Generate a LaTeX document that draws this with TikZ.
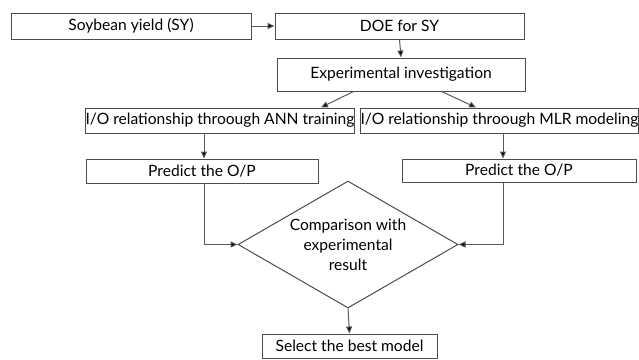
\documentclass[tikz,border=0pt]{standalone}
\usepackage{fontspec}
\setmainfont{Lato}
\usetikzlibrary{shapes.geometric,arrows.meta,calc}
\begin{document}
\begin{tikzpicture}[x=1pt,y=-1pt,
  box/.style={draw=black!70,line width=1pt,inner sep=0pt,minimum width=#1,font=\fontsize{15.6}{18}\selectfont},
  conn/.style={draw=black!65,line width=1pt,-{Triangle[length=7pt,width=6pt,fill=black]}}]
\useasboundingbox (0,0) rectangle (639,359);
\node[box=240pt,minimum height=26pt] (sy) at (131,26) {Soybean yield (SY)};
\node[box=249pt,minimum height=26pt] (doe) at (399.5,26) {DOE for SY};
\node[box=248pt,minimum height=33pt] (exp) at (401,74.5) {Experimental investigation};
\node[box=268pt,minimum height=25pt] (ann) at (220,120.5) {I/O relationship throough ANN training};
\node[box=273pt,minimum height=25pt] (mlr) at (499.5,120.5) {I/O relationship throough MLR modeling};
\node[box=232pt,minimum height=24pt] (pl) at (202,171) {Predict the O/P};
\node[box=234pt,minimum height=23pt] (pr) at (519,170.5) {Predict the O/P};
\node[draw=black!70,line width=1pt,diamond,aspect=1.73,inner sep=-4pt,minimum width=220pt,minimum height=127pt,
  align=center,font=\fontsize{15.6}{20}\selectfont] (cmp) at (348,244.5) {Comparison with\\experimental\\result};
\node[box=175pt,minimum height=24pt] (best) at (349.5,346) {Select the best model};
\coordinate (l1) at (204,0);
\coordinate (r1) at (503,0);
\draw[conn] (sy) -- (doe);
\draw[conn] (doe.south) -- (exp.north);
\draw[conn] ($(exp.south west)+(77,0)$) -- ($(ann.north east)+(-34,0)$);
\draw[conn] ($(exp.south west)+(165,0)$) -- ($(mlr.north west)+(116,0)$);
\draw[conn] (ann.south -| l1) -- (pl.north -| l1);
\draw[conn] (mlr.south -| r1) -- (pr.north -| r1);
\draw[conn] (pl.south -| l1) |- (cmp.west);
\draw[conn] (pr.south -| r1) |- (cmp.east);
\draw[conn] (cmp.south) -- (best.north);
\end{tikzpicture}
\end{document}
